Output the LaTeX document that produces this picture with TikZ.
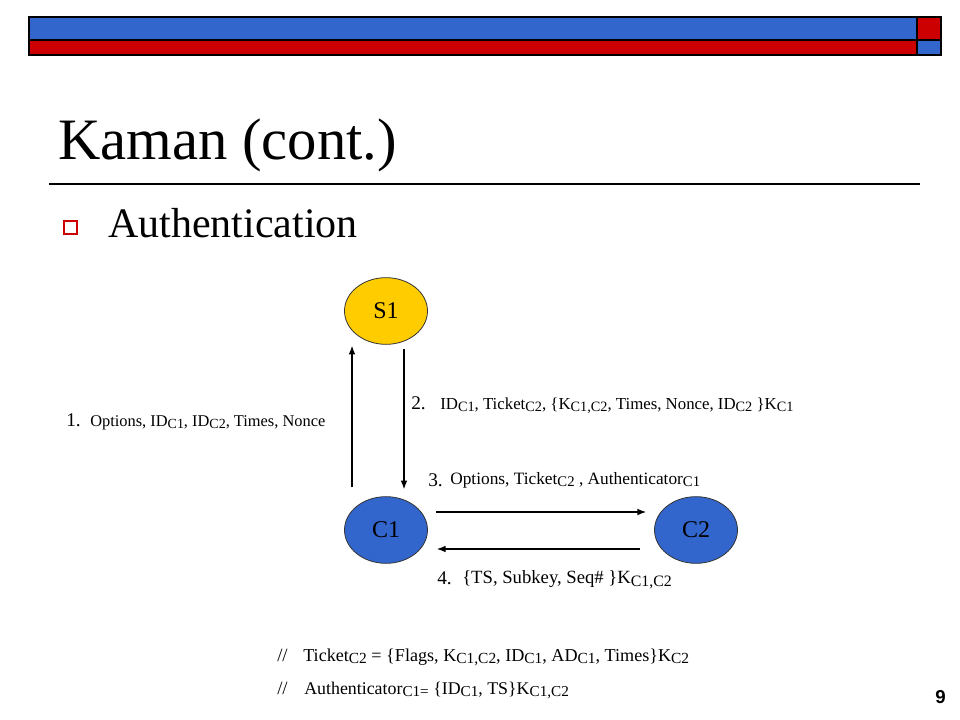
\documentclass[tikz,border=0pt]{standalone}
\usepackage{fontspec}
\setmainfont{Liberation Serif}
\newfontfamily\sansf{Liberation Sans}
\usetikzlibrary{arrows.meta,shapes.geometric}
\definecolor{sblue}{HTML}{3366CC}
\definecolor{sred}{HTML}{CC0000}
\definecolor{sgold}{HTML}{FFCC00}
\newcommand\sbs[1]{\raisebox{-0.35ex}{\scalebox{0.85}{#1}}}
\newcommand\fsz[1]{\fontsize{#1}{#1}\selectfont}
\begin{document}
\begin{tikzpicture}[x=0.75pt,y=-0.75pt,
 lbl/.style={anchor=base west,inner sep=0pt,font=\fsz{12.5}},
 num/.style={anchor=base west,inner sep=0pt,font=\fsz{14.5}},
 party/.style={ellipse,draw=black!80,line width=0.6pt,minimum width=62.25pt,minimum height=50pt,font=\fsz{18},inner sep=0pt},
 msg/.style={-{Latex[length=6.5pt,width=5pt]},line width=0.9pt}]
\useasboundingbox (0,0) rectangle (960,720);
\fill[white] (0,0) rectangle (960,720);
% header bars
\draw[fill=sblue,line width=0.9pt] (29,17) rectangle (917,40);
\draw[fill=sred,line width=0.9pt] (917,17) rectangle (941,40);
\draw[fill=sred,line width=0.9pt] (29,40) rectangle (917,55);
\draw[fill=sblue,line width=0.9pt] (917,40) rectangle (941,55);
% title
\node[anchor=base west,inner sep=0pt,font=\fsz{44}] (title) at (58,160) {Kaman (cont.)};
\draw[line width=0.9pt] (49,184) -- (920,184);
% bullet
\draw[sred,line width=1.8pt] (64,221) rectangle (77,234);
\node[anchor=base west,inner sep=0pt,font=\fsz{31.5}] (auth) at (108,238) {Authentication};
% parties
\node[party,fill=sgold] (S1) at (386,311) {S1};
\node[party,fill=sblue] (C1) at (386,530) {C1};
\node[party,fill=sblue] (C2) at (696,530) {C2};
% messages
\draw[msg] ([shift={(-34,-9)}]C1.north) -- ([shift={(-34,1)}]S1.south);
\draw[msg] ([shift={(18,4)}]S1.south) -- ([shift={(18,-7)}]C1.north);
\draw[msg] ([shift={(8,-18)}]C1.east) -- ([shift={(-8,-18)}]C2.west);
\draw[msg] ([shift={(-14,19)}]C2.west) -- ([shift={(9,19)}]C1.east);
% labels
\node[num] (n1) at (66,426) {1.};
\node[lbl,font=\fsz{12.3}] (l1) at (90,426) {Options, ID\sbs{C1}, ID\sbs{C2}, Times, Nonce};
\node[num] (n2) at (411,409) {2.};
\node[lbl,font=\fsz{12.6}] (l2) at (440,409) {ID\sbs{C1}, Ticket\sbs{C2}, \{K\sbs{C1,C2}, Times, Nonce, ID\sbs{C2} \}K\sbs{C1}};
\node[num] (n3) at (428,486) {3.};
\node[lbl,font=\fsz{13}] (l3) at (450,484) {Options, Ticket\sbs{C2} , Authenticator\sbs{C1}};
\node[num] (n4) at (437,584) {4.};
\node[lbl,font=\fsz{14}] (l4) at (462,583) {\{TS, Subkey, Seq\# \}K\sbs{C1,C2}};
\node[lbl,font=\fsz{14}] (s1) at (277,661) {//};
\node[lbl,font=\fsz{13.6}] (t1) at (303,661) {Ticket\sbs{C2} = \{Flags, K\sbs{C1,C2}, ID\sbs{C1}, AD\sbs{C1}, Times\}K\sbs{C2}};
\node[lbl,font=\fsz{14}] (s2) at (277,694) {//};
\node[lbl,font=\fsz{13.4}] (t2) at (304,694) {Authenticator\sbs{C1=} \{ID\sbs{C1}, TS\}K\sbs{C1,C2}};
% page number
\node[anchor=base east,inner sep=0pt,font=\sansf\bfseries\fsz{14}] (pg) at (946,703) {9};
\end{tikzpicture}
\end{document}
